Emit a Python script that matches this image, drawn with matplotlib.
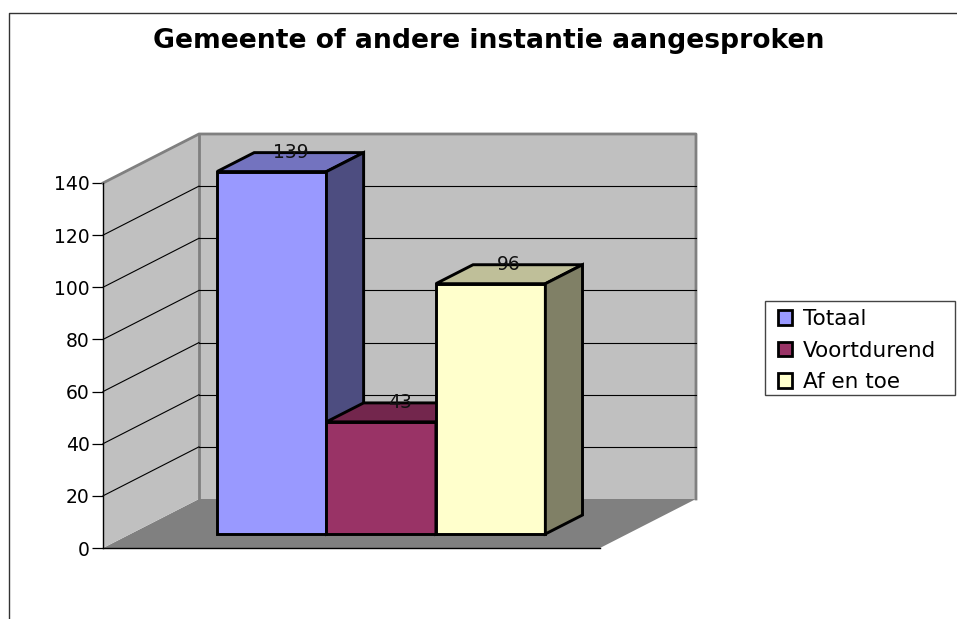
import matplotlib
matplotlib.use("Agg")
import matplotlib.pyplot as plt
from matplotlib.lines import Line2D
from matplotlib.patches import Patch, Polygon, Rectangle

# chart data
title = "Gemeente of andere instantie aangesproken"
series_names = ["Totaal", "Voortdurend", "Af en toe"]
series_values = [139, 43, 96]
y_ticks = [0, 20, 40, 60, 80, 100, 120, 140]

# colours per series: front, top, side
front_colors = ["#9999FF", "#993366", "#FFFFCC"]
top_colors = ["#7373BF", "#73264D", "#BFBF99"]
side_colors = ["#4D4D80", "#4D1A33", "#808066"]

W, H = 957, 619
plt.rcParams["font.family"] = ["DejaVu Sans"]
fig = plt.figure(figsize=(W / 100, H / 100), dpi=100)
fig.patch.set_facecolor("white")

# axes is the front plane of the 3d box
ax = fig.add_axes([103 / W, (H - 548) / H, 497 / W, 365 / H])
ax.set_xlim(-1.041, 3.5)
ax.set_ylim(0, 140)
ax.patch.set_alpha(0)

# oblique offset of the back wall, in axis units
depth_x = 0.877
depth_y = 18.8
x0, x1 = ax.get_xlim()
y0, y1 = ax.get_ylim()


def proj(x, v, d):
    return (x + d * depth_x, v + d * depth_y)


def face(points, color, z, edge="none", lw=0):
    ax.add_patch(Polygon([proj(*p) for p in points], closed=True, facecolor=color,
                         edgecolor=edge, linewidth=lw, joinstyle="miter",
                         clip_on=False, zorder=z))


# walls and floor
face([(x0, y0, 0), (x1, y0, 0), (x1, y0, 1), (x0, y0, 1)], "#808080", 1)
face([(x0, y0, 0), (x0, y0, 1), (x0, y1, 1), (x0, y1, 0)], "#C0C0C0", 1)
face([(x0, y0, 1), (x1, y0, 1), (x1, y1, 1), (x0, y1, 1)], "#C0C0C0", 1)

# wall edges in grey
edge_paths = [[(x0, y1, 0), (x0, y1, 1), (x1, y1, 1), (x1, y0, 1)], [(x0, y1, 1), (x0, y0, 1)]]
for path in edge_paths:
    pts = [proj(*p) for p in path]
    ax.plot([p[0] for p in pts], [p[1] for p in pts], color="#808080", lw=2.0,
            clip_on=False, zorder=2, solid_capstyle="projecting")

# grid lines on both walls
for v in y_ticks[1:-1]:
    a, b, c = proj(x0, v, 0), proj(x0, v, 1), proj(x1, v, 1)
    ax.plot([a[0], b[0]], [a[1], b[1]], color="black", lw=0.8, clip_on=False, zorder=2)
    ax.plot([b[0], c[0]], [b[1], c[1]], color="black", lw=0.8, clip_on=False, zorder=2)

# bars, drawn left to right so later ones cover the side of earlier ones
d_front = 0.286
d_back = 0.673
d_mid = (d_front + d_back) / 2
bar_start = -0.25
bar_edge = dict(edge="black", lw=2.1)
for i, value in enumerate(series_values):
    xa, xb = bar_start + i, bar_start + i + 1
    face([(xa, 0, d_front), (xb, 0, d_front), (xb, value, d_front), (xa, value, d_front)],
         front_colors[i], 3 + i, **bar_edge)
    face([(xa, value, d_front), (xb, value, d_front), (xb, value, d_back), (xa, value, d_back)],
         top_colors[i], 3 + i, **bar_edge)
    face([(xb, 0, d_front), (xb, 0, d_back), (xb, value, d_back), (xb, value, d_front)],
         side_colors[i], 3 + i, **bar_edge)
    # value label sits on the back edge of the top face
    lx = proj(xa + 0.5, value, d_mid)[0]
    ly = proj(xa + 0.5, value, d_back)[1]
    ax.text(lx, ly, str(value), ha="center", va="center", fontsize=13.5, color="#111111",
            clip_on=False, zorder=10)

# axis
for s in ["top", "right"]:
    ax.spines[s].set_visible(False)
ax.spines["left"].set_linewidth(1.0)
ax.spines["bottom"].set_linewidth(1.0)
ax.set_xticks([])
ax.set_yticks(y_ticks)
ax.tick_params(axis="y", length=8, width=0.9, pad=1.5, labelsize=13.5)

fig.suptitle(title, x=489 / W, y=1 - 41 / H, ha="center", va="center",
             fontsize=19.2, fontweight="bold")

# outer chart frame, right and bottom are cut off
fig.add_artist(Line2D([9 / W, 9 / W, 1], [0, 1 - 13 / H, 1 - 13 / H], color="#333333", lw=1.0))

# legend box and entries
fig.add_artist(Rectangle((765 / W, 1 - 395 / H), 190 / W, 94 / H, transform=fig.transFigure,
                         facecolor="white", edgecolor="#444444", linewidth=1.0))
handles = [Patch(facecolor=c, edgecolor="black", linewidth=2.0) for c in front_colors]
leg = fig.legend(handles, series_names, loc="upper left", bbox_to_anchor=(778 / W, 1 - 309 / H),
                 fontsize=15.5, frameon=False, handlelength=0.66, handleheight=0.66,
                 handletextpad=0.5, labelspacing=0.54, borderpad=0, borderaxespad=0)

fig.savefig("out.png", dpi=100)
